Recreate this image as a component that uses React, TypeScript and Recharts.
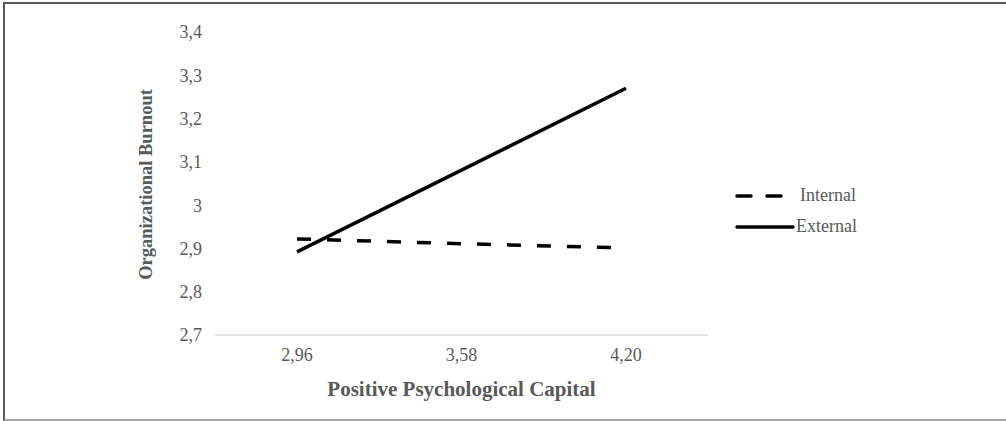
import React from 'react';
import { LineChart, Line, XAxis, YAxis, Legend } from 'recharts';

const categories = ['2,96', '3,58', '4,20'];
const internalValues = [2.922, 2.911, 2.901];
const externalValues = [2.892, 3.081, 3.270];
const yTicks = [2.7, 2.8, 2.9, 3.0, 3.1, 3.2, 3.3, 3.4];
const yTickLabels = ['2,7', '2,8', '2,9', '3', '3,1', '3,2', '3,3', '3,4'];
const seriesNames = ['Internal', 'External'];

const data = categories.map((c, i) => ({
  cat: c,
  Internal: internalValues[i],
  External: externalValues[i],
}));

const FONT = '"Liberation Serif", "Times New Roman", serif';
const GRAY = '#595959';

const LegendContent = () => (
  <svg width={160} height={60}>
    <line x1={2} y1={12} x2={48} y2={12} stroke="#000" strokeWidth={3.5} strokeDasharray="14 16" strokeLinecap="round" />
    <text x={65} y={17} fontFamily={FONT} fontSize={18} fill={GRAY}>{seriesNames[0]}</text>
    <line x1={2} y1={43} x2={58} y2={43} stroke="#000" strokeWidth={3.5} strokeLinecap="round" />
    <text x={61} y={48} fontFamily={FONT} fontSize={18} fill={GRAY}>{seriesNames[1]}</text>
  </svg>
);

export default function App() {
  return (
    <div
      style={{
        position: 'absolute',
        left: 0,
        top: 0,
        width: 1006,
        height: 421,
        background: '#fff',
        overflow: 'hidden',
      }}
    >
      <div
        style={{
          position: 'absolute',
          left: 3,
          top: 2,
          width: 1010,
          height: 415,
          borderLeft: '2px solid #595959',
          borderTop: '2px solid #595959',
          borderBottom: '2px solid #a6a6a6',
        }}
      />
      <LineChart
        width={1006}
        height={421}
        data={data}
        margin={{ top: 32, right: 138, bottom: 21, left: 135 }}
      >
        <XAxis
          dataKey="cat"
          padding={{ left: 82, right: 82 }}
          axisLine={{ stroke: '#d9d9d9', strokeWidth: 1.5 }}
          tickLine={false}
          tickMargin={7}
          height={65}
          tick={{ fill: GRAY, fontFamily: FONT, fontSize: 18 }}
          label={{
            value: 'Positive Psychological Capital',
            position: 'insideBottom',
            offset: 4,
            fill: GRAY,
            fontFamily: FONT,
            fontSize: 21,
            fontWeight: 'bold',
          }}
        />
        <YAxis
          domain={[2.7, 3.4]}
          ticks={yTicks}
          interval={0}
          axisLine={false}
          tickLine={false}
          width={80}
          tickMargin={7}
          tickFormatter={(v: number) => yTickLabels[yTicks.findIndex((t) => Math.abs(t - v) < 1e-6)] ?? String(v)}
          tick={{ fill: GRAY, fontFamily: FONT, fontSize: 18 }}
          label={{
            value: 'Organizational Burnout',
            angle: -90,
            position: 'center',
            dx: -30,
            dy: 1,
            fill: GRAY,
            fontFamily: FONT,
            fontSize: 18.5,
            fontWeight: 'bold',
          }}
        />
        <Legend
          layout="horizontal"
          verticalAlign="middle"
          align="right"
          content={<LegendContent />}
          wrapperStyle={{ left: 735, top: 184, width: 160, height: 60 }}
        />
        <Line
          dataKey="Internal"
          stroke="#000"
          strokeWidth={3.5}
          strokeDasharray="14 16"
          dot={false}
          isAnimationActive={false}
        />
        <Line
          dataKey="External"
          stroke="#000"
          strokeWidth={3.5}
          dot={false}
          isAnimationActive={false}
        />
      </LineChart>
    </div>
  );
}
